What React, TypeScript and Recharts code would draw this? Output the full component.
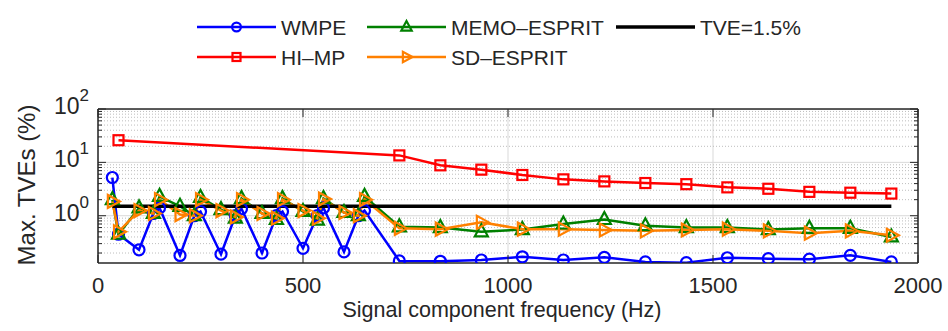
import { CartesianGrid, Line, LineChart, ReferenceLine, XAxis, YAxis } from "recharts"

// test frequencies (Hz)
const freqs = [35, 50, 100, 135, 150, 200, 235, 250, 300, 335, 350, 400, 435, 450, 500, 535, 550, 600, 635, 650,
  735, 835, 935, 1035, 1135, 1235, 1335, 1435, 1535, 1635, 1735, 1835, 1935]

// max TVE (%) per method
const wmpe = [5.2, 0.45, 0.23, 1.1, 1.4, 0.18, 1.0, 1.2, 0.19, 1.0, 1.35, 0.2, 1.0, 1.2, 0.245, 1.0, 1.4, 0.21, 1.0, 1.25,
  0.142, 0.14, 0.148, 0.17, 0.148, 0.166, 0.136, 0.132, 0.163, 0.157, 0.153, 0.181, 0.136]
const hiMp = [null, 26, null, null, null, null, null, null, null, null, null, null, null, null, null, null, null, null, null, null,
  13.5, 8.8, 7.3, 5.8, 4.8, 4.4, 4.1, 3.9, 3.4, 3.2, 2.8, 2.7, 2.6]
const memoEsprit = [2.0, 0.45, 1.4, 1.1, 2.3, 1.5, 1.0, 2.2, 1.3, 0.9, 2.1, 1.1, 0.85, 2.1, 1.2, 0.83, 2.1, 1.15, 1.0, 2.3,
  0.62, 0.6, 0.5, 0.55, 0.7, 0.85, 0.65, 0.6, 0.6, 0.55, 0.58, 0.58, 0.4]
const sdEsprit = [1.85, 0.5, 1.25, 1.1, 2.0, 1.05, 1.0, 2.0, 1.25, 0.95, 2.0, 1.1, 0.9, 2.0, 1.25, 0.9, 2.05, 1.15, 1.0, 2.0,
  0.58, 0.56, 0.75, 0.56, 0.56, 0.54, 0.52, 0.54, 0.56, 0.52, 0.47, 0.52, 0.43]
const tveLimit = 1.5

const xTicks = [0, 500, 1000, 1500, 2000]
const yMajor = [1, 10, 100]
const yMinor = [0.2, 0.3, 0.4, 0.5, 0.6, 0.7, 0.8, 0.9, 2, 3, 4, 5, 6, 7, 8, 9, 20, 30, 40, 50, 60, 70, 80, 90]
const yTicks = [...yMinor, ...yMajor].sort((a, b) => a - b)

const data = freqs.map((f, i) => ({
  f,
  wmpe: wmpe[i],
  hiMp: hiMp[i],
  memo: memoEsprit[i],
  sd: sdEsprit[i],
  tve: tveLimit,
}))

const FONT = "'Liberation Sans', Arial, sans-serif"
const INK = "#262626"
const BLUE = "#0000ff"
const RED = "#ff0000"
const GREEN = "#008000"
const ORANGE = "#ff8000"

const marker = (kind: string, color: string, cx: number, cy: number, key?: any, s = 1) => {
  if (kind === "circle") return <circle key={key} cx={cx} cy={cy} r={5.5 * s} fill="none" stroke={color} strokeWidth={2.2} />
  if (kind === "square") return <rect key={key} x={cx - 5 * s} y={cy - 5 * s} width={10 * s} height={10 * s} fill="none" stroke={color} strokeWidth={2.2} />
  if (kind === "up") return <polygon key={key} points={`${cx},${cy - 7.5 * s} ${cx - 6.5 * s},${cy + 4.5 * s} ${cx + 6.5 * s},${cy + 4.5 * s}`} fill="none" stroke={color} strokeWidth={2.2} />
  if (kind === "right") return <polygon key={key} points={`${cx + 7.5 * s},${cy} ${cx - 4.5 * s},${cy - 6.5 * s} ${cx - 4.5 * s},${cy + 6.5 * s}`} fill="none" stroke={color} strokeWidth={2.2} />
  return <g key={key} />
}

const dotOf = (kind: string, color: string) => (p: any) => {
  if (p.cx == null || p.cy == null || p.value == null) return <g key={p.key ?? p.index} />
  return marker(kind, color, p.cx, p.cy, p.key ?? p.index)
}

const LeftTick = (props: any) => {
  const { x, y, payload } = props
  const v = payload.value
  const major = yMajor.includes(v)
  return (
    <g>
      <line x1={x} x2={x + (major ? 8 : 4)} y1={y} y2={y} stroke={INK} />
      {major && (
        <text x={x - 9} y={y + 5} textAnchor="end" fontSize={23} fontFamily={FONT} fill={INK}>
          10<tspan dy={-13} fontSize={17}>{Math.round(Math.log10(v))}</tspan>
        </text>
      )}
    </g>
  )
}

const RightTick = (props: any) => {
  const { x, y, payload } = props
  const major = yMajor.includes(payload.value)
  return <line x1={x} x2={x - (major ? 8 : 4)} y1={y} y2={y} stroke={INK} />
}

const BottomTick = (props: any) => {
  const { x, y, payload } = props
  return (
    <g>
      <line x1={x} x2={x} y1={y} y2={y - 8} stroke={INK} />
      <text x={x} y={y + 30} textAnchor="middle" fontSize={22} fontFamily={FONT} fill={INK}>{payload.value}</text>
    </g>
  )
}

const TopTick = (props: any) => {
  const { x, y } = props
  return <line x1={x} x2={x} y1={y} y2={y + 8} stroke={INK} />
}

const XLabel = () => (
  <text x={502} y={317} textAnchor="middle" fontSize={21.5} fontFamily={FONT} fill={INK}>Signal component frequency (Hz)</text>
)

const YLabel = () => (
  <text x={35} y={185} transform="rotate(-90, 35, 185)" textAnchor="middle" fontSize={24} fontFamily={FONT} fill={INK}>Max. TVEs (%)</text>
)

const legendRows = [
  [
    { name: "WMPE", color: BLUE, kind: "circle", x: 197 },
    { name: "MEMO–ESPRIT", color: GREEN, kind: "up", x: 367 },
    { name: "TVE=1.5%", color: "#000", kind: "none", x: 616 },
  ],
  [
    { name: "HI–MP", color: RED, kind: "square", x: 197 },
    { name: "SD–ESPRIT", color: ORANGE, kind: "right", x: 367 },
  ],
]

const ChartLegend = () => (
  <svg width={948} height={80} style={{ position: "absolute", left: 0, top: 0 }}>
    {legendRows.map((row, r) =>
      row.map((it) => {
        const cy = 27 + r * 30
        return (
          <g key={it.name}>
            <line x1={it.x} x2={it.x + 79} y1={cy} y2={cy} stroke={it.color} strokeWidth={it.kind === "none" ? 3.5 : 2.5} />
            {marker(it.kind, it.color, it.x + 39.5, cy, undefined, 0.8)}
            <text x={it.x + 84} y={cy + 7.5} fontSize={21} fontFamily={FONT} fill={INK}>{it.name}</text>
          </g>
        )
      })
    )}
  </svg>
)

export default function App() {
  return (
    <div style={{ position: "absolute", left: 0, top: 0, width: 948, height: 331, background: "#fff" }}>
      <LineChart width={948} height={331} data={data} margin={{ top: 108, right: 29, bottom: 67, left: 38 }}>
        <CartesianGrid horizontal={false} stroke="#d9d9d9" strokeWidth={1} />
        {yMinor.map((v) => (
          <ReferenceLine key={"m" + v} y={v} stroke="#bdbdbd" strokeDasharray="1 2" ifOverflow="hidden" />
        ))}
        {yMajor.map((v) => (
          <ReferenceLine key={"M" + v} y={v} stroke="#d9d9d9" ifOverflow="hidden" />
        ))}
        <XAxis dataKey="f" type="number" domain={[0, 2000]} ticks={xTicks} height={1} tickSize={0} tickMargin={0}
          tickLine={false} axisLine={{ stroke: INK, strokeWidth: 1.5 }} tick={BottomTick} interval={0} label={<XLabel />} />
        <XAxis xAxisId="top" orientation="top" dataKey="f" type="number" domain={[0, 2000]} ticks={xTicks} height={1}
          tickSize={0} tickMargin={0} tickLine={false} axisLine={{ stroke: INK, strokeWidth: 1.5 }} tick={TopTick} interval={0} />
        <YAxis scale="log" domain={[0.13, 100]} allowDataOverflow ticks={yTicks} width={60} tickSize={0} tickMargin={0}
          tickLine={false} axisLine={{ stroke: INK, strokeWidth: 1.5 }} tick={LeftTick} interval={0} label={<YLabel />} />
        <YAxis yAxisId="right" orientation="right" scale="log" domain={[0.13, 100]} allowDataOverflow ticks={yTicks} width={1}
          tickSize={0} tickMargin={0} tickLine={false} axisLine={{ stroke: INK, strokeWidth: 1.5 }} tick={RightTick} interval={0} />
        <Line dataKey="wmpe" stroke={BLUE} strokeWidth={2.5} dot={dotOf("circle", BLUE)} connectNulls isAnimationActive={false} />
        <Line dataKey="hiMp" stroke={RED} strokeWidth={2.5} dot={dotOf("square", RED)} connectNulls isAnimationActive={false} />
        <Line dataKey="memo" stroke={GREEN} strokeWidth={2.5} dot={dotOf("up", GREEN)} connectNulls isAnimationActive={false} />
        <Line dataKey="sd" stroke={ORANGE} strokeWidth={2.5} dot={dotOf("right", ORANGE)} connectNulls isAnimationActive={false} />
        <Line dataKey="tve" stroke="#000" strokeWidth={3.5} dot={false} isAnimationActive={false} />
      </LineChart>
      <ChartLegend />
    </div>
  )
}
